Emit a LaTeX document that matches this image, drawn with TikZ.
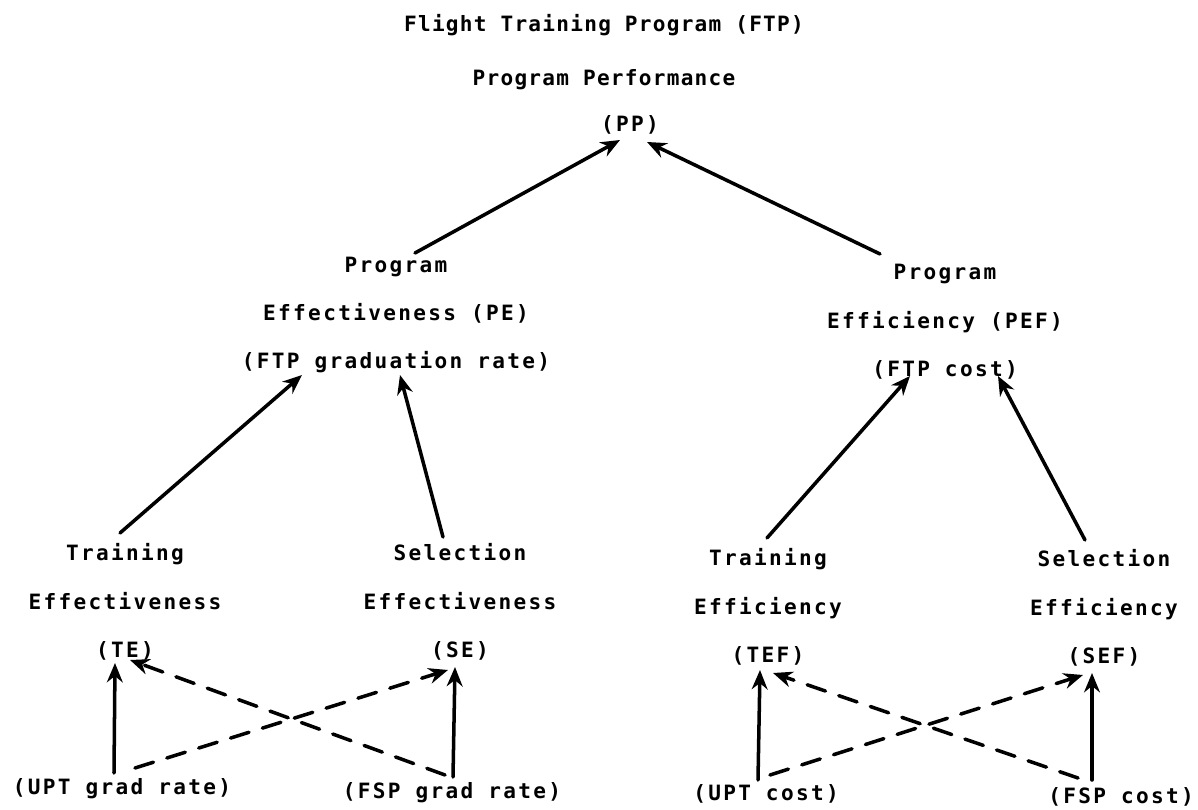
\documentclass[tikz,border=0pt]{standalone}
\usepackage{fontspec}
\usepackage{tikz}
\usetikzlibrary{arrows.meta,calc}
\newfontfamily\typew[LetterSpace=11]{DejaVu Sans Mono Bold}
\newfontfamily\typewt[LetterSpace=6]{DejaVu Sans Mono Bold}

\begin{document}
\begin{tikzpicture}[x=0.02cm, y=-0.02cm,
    lbl/.style={font=\typew\fontsize{12}{27.5}\selectfont, align=center, inner sep=0pt},
    link/.style={-{Stealth[length=11pt,width=9pt]}, line width=2pt, line cap=round},
    xlink/.style={link, dash pattern=on 11pt off 8pt}]
\useasboundingbox (0,0) rectangle (1198,810);
\node[lbl, font=\typewt\fontsize{12}{30.5}\selectfont] (ftp) at (604,52) {Flight Training Program (FTP)\\Program Performance};
\node[lbl] (pp) at (630,125) {(PP)};
\node[lbl] (pe) at (396,315) {Program\\Effectiveness (PE)\\(FTP graduation rate)};
\node[lbl] (pef) at (945,322) {Program\\Efficiency (PEF)\\(FTP cost)};
\node[lbl] (te) at (125,602) {Training\\Effectiveness\\(TE)};
\node[lbl] (se) at (460,602) {Selection\\Effectiveness\\(SE)};
\node[lbl] (tef) at (768,607) {Training\\Efficiency\\(TEF)};
\node[lbl] (sef) at (1104,608) {Selection\\Efficiency\\(SEF)};
\node[lbl] (upt) at (122,789) {(UPT grad rate)};
\node[lbl] (fsp) at (452,793) {(FSP grad rate)};
\node[lbl] (uptc) at (766,794) {(UPT cost)};
\node[lbl] (fspc) at (1121,797) {(FSP cost)};
\draw[link] ($(pe)+(19,-62)$) -- ($(pp)+(-10,15)$);
\draw[link] ($(pef)+(-65,-68)$) -- ($(pp)+(17,17)$);
\draw[link] ($(te)+(-5,-69)$) -- ($(pe)+(-94,60)$);
\draw[link] ($(se)+(-17,-65)$) -- ($(pe)+(4,60)$);
\draw[link] ($(tef)+(-1,-69)$) -- ($(pef)+(-35,54)$);
\draw[link] ($(sef)+(-19,-68)$) -- ($(pef)+(53,54)$);
\draw[link] ($(upt)+(-8,-16)$) -- ($(te)+(-10,61)$);
\draw[link] ($(fsp)+(1,-16)$) -- ($(se)+(-5,65)$);
\draw[xlink] ($(upt)+(13,-21)$) -- ($(se)+(-12,68)$);
\draw[xlink] ($(fsp)+(-7,-18)$) -- ($(te)+(5,58)$);
\draw[link] ($(uptc)+(-8,-14)$) -- ($(tef)+(-8,63)$);
\draw[link] ($(fspc)+(-29,-17)$) -- ($(sef)+(-12,65)$);
\draw[xlink] ($(uptc)+(4,-19)$) -- ($(sef)+(-21,67)$);
\draw[xlink] ($(fspc)+(-43,-19)$) -- ($(tef)+(5,66)$);
\end{tikzpicture}
\end{document}
